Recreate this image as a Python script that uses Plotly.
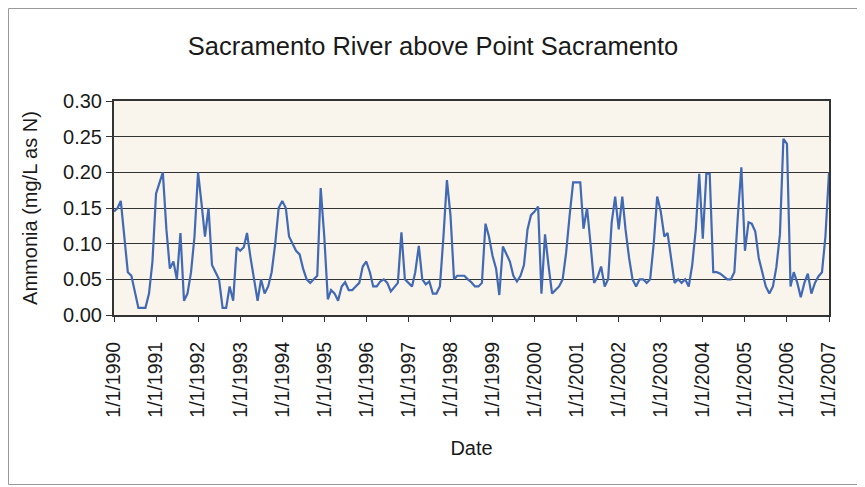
import plotly.graph_objects as go
import pandas as pd

# Monthly ammonia values (mg/L as N), Jan..Dec per year
y1990 = [0.145, 0.15, 0.16, 0.105, 0.06, 0.055, 0.035, 0.01, 0.01, 0.01, 0.03, 0.075]
y1991 = [0.17, 0.186, 0.20, 0.12, 0.065, 0.075, 0.05, 0.115, 0.02, 0.03, 0.06, 0.11]
y1992 = [0.20, 0.155, 0.11, 0.15, 0.07, 0.06, 0.05, 0.01, 0.01, 0.04, 0.02, 0.095]
y1993 = [0.09, 0.095, 0.115, 0.08, 0.05, 0.02, 0.05, 0.03, 0.04, 0.06, 0.10, 0.15]
y1994 = [0.16, 0.15, 0.11, 0.10, 0.09, 0.085, 0.065, 0.05, 0.045, 0.05, 0.055, 0.178]
y1995 = [0.11, 0.022, 0.035, 0.03, 0.02, 0.04, 0.046, 0.035, 0.035, 0.04, 0.045, 0.068]
y1996 = [0.075, 0.06, 0.04, 0.04, 0.047, 0.05, 0.045, 0.033, 0.04, 0.045, 0.116, 0.05]
y1997 = [0.045, 0.04, 0.06, 0.097, 0.05, 0.043, 0.047, 0.03, 0.03, 0.04, 0.11, 0.189]
y1998 = [0.14, 0.05, 0.055, 0.055, 0.055, 0.05, 0.046, 0.04, 0.04, 0.045, 0.128, 0.11]
y1999 = [0.083, 0.065, 0.028, 0.096, 0.085, 0.075, 0.055, 0.047, 0.055, 0.07, 0.12, 0.14]
y2000 = [0.145, 0.152, 0.03, 0.113, 0.07, 0.03, 0.035, 0.04, 0.05, 0.087, 0.14, 0.186]
y2001 = [0.186, 0.186, 0.121, 0.15, 0.10, 0.045, 0.053, 0.068, 0.04, 0.05, 0.13, 0.166]
y2002 = [0.12, 0.166, 0.12, 0.08, 0.05, 0.04, 0.05, 0.05, 0.045, 0.05, 0.10, 0.166]
y2003 = [0.145, 0.11, 0.115, 0.08, 0.045, 0.05, 0.045, 0.05, 0.04, 0.07, 0.12, 0.198]
y2004 = [0.107, 0.198, 0.198, 0.06, 0.06, 0.058, 0.054, 0.05, 0.05, 0.06, 0.14, 0.207]
y2005 = [0.09, 0.13, 0.128, 0.117, 0.08, 0.058, 0.04, 0.03, 0.04, 0.067, 0.113, 0.247]
y2006 = [0.24, 0.04, 0.06, 0.045, 0.025, 0.045, 0.058, 0.03, 0.045, 0.054, 0.06, 0.11]
y2007 = [0.20]

values = (y1990 + y1991 + y1992 + y1993 + y1994 + y1995 + y1996 + y1997 + y1998
          + y1999 + y2000 + y2001 + y2002 + y2003 + y2004 + y2005 + y2006 + y2007)
dates = pd.date_range("1990-01-01", periods=len(values), freq="MS")

tick_years = list(range(1990, 2008))
tick_dates = [f"{y}-01-01" for y in tick_years]
tick_labels = [f"1/1/{y}" for y in tick_years]

FONT = "Liberation Sans, Arial, sans-serif"

# page has an 8px body margin; figure is sized to fit inside the window
W, H = 857, 479
ML, MT, MR, MB = 106, 93, 36, 172
PW, PH = W - ML - MR, H - MT - MB

fig = go.Figure()
fig.add_trace(go.Scatter(x=dates, y=values, mode="lines",
                         line=dict(color="#4169B4", width=2.2), showlegend=False))

fig.update_layout(
    width=W, height=H,
    margin=dict(l=ML, r=MR, t=MT, b=MB, pad=0),
    paper_bgcolor="white",
    plot_bgcolor="#F9F4EC",
    font=dict(family=FONT, size=20, color="#1a1a1a"),
    title=dict(text="Sacramento River above Point Sacramento", x=0.496, xref="container",
               xanchor="center", y=1 - 38 / H, yanchor="middle",
               font=dict(size=25.5, family=FONT, color="#1a1a1a")),
    xaxis=dict(
        type="date", range=["1990-01-01", "2007-01-01"],
        tickvals=tick_dates, ticktext=tick_labels, tickangle=-90,
        ticks="outside", ticklen=5, tickcolor="#333", tickwidth=1,
        ticklabelstandoff=12,
        tickfont=dict(size=19.5),
        showgrid=False, showline=True, linecolor="#333", linewidth=2, mirror=True,
        title=dict(text="Date", font=dict(size=20), standoff=24),
        zeroline=False,
    ),
    yaxis=dict(
        range=[0, 0.30], dtick=0.05, tickformat=".2f",
        ticks="outside", ticklen=6, tickcolor="#333",
        showgrid=True, gridcolor="#333", gridwidth=1,
        showline=True, linecolor="#333", linewidth=2, mirror=True,
        title=dict(text="Ammonia (mg/L as N)", font=dict(size=20), standoff=20),
        zeroline=False,
    ),
    shapes=[dict(type="rect", xref="paper", yref="paper",
                 x0=(0.5 - ML) / PW, x1=(W - 3.5 - ML) / PW,
                 y0=-(MB - 2.5) / PH, y1=(PH + MT - 0.5) / PH,
                 line=dict(color="#999", width=1), layer="below")],
)

fig.write_html("out.html")
